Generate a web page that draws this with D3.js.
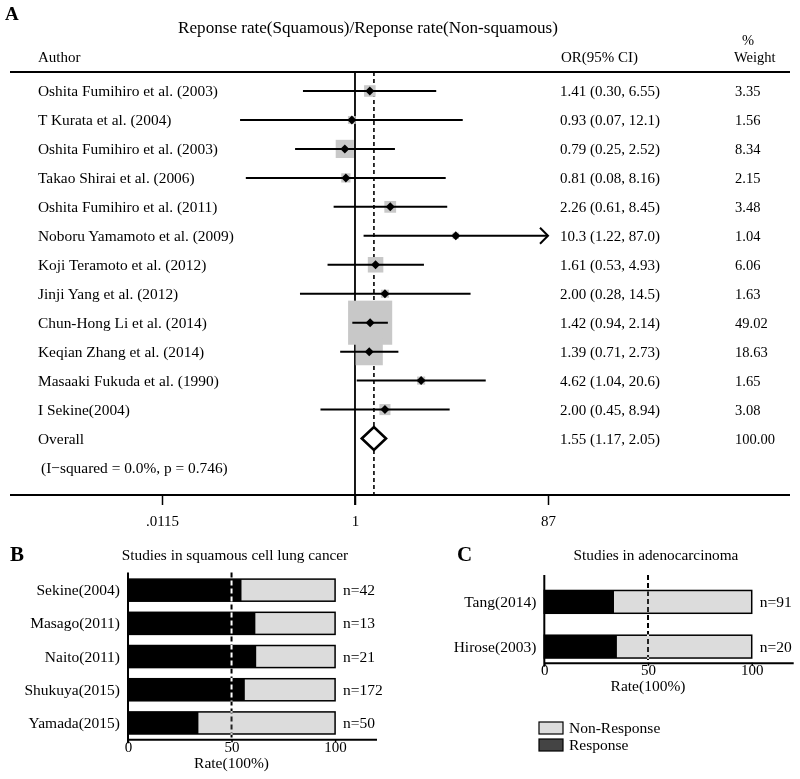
<!DOCTYPE html>
<html><head><meta charset="utf-8">
<script src="https://cdn.jsdelivr.net/npm/d3@7"></script>
<style>body{margin:0;background:#fff}svg{display:block}text{font-family:"Liberation Serif","Times New Roman",serif;fill:#000}</style>
</head><body>
<script>
// ---- Panel A data ----
const authors = ["Oshita Fumihiro et al. (2003)","T Kurata et al. (2004)","Oshita Fumihiro et al. (2003)","Takao Shirai et al. (2006)","Oshita Fumihiro et al. (2011)","Noboru Yamamoto et al. (2009)","Koji Teramoto et al. (2012)","Jinji Yang et al. (2012)","Chun-Hong Li et al. (2014)","Keqian Zhang et al. (2014)","Masaaki Fukuda et al. (1990)","I Sekine(2004)"];
const orValues = [1.41,0.93,0.79,0.81,2.26,10.3,1.61,2.00,1.42,1.39,4.62,2.00];
const ciLower = [0.30,0.07,0.25,0.08,0.61,1.22,0.53,0.28,0.94,0.71,1.04,0.45];
const ciUpper = [6.55,12.1,2.52,8.16,8.45,87.0,4.93,14.5,2.14,2.73,20.6,8.94];
const weights = [3.35,1.56,8.34,2.15,3.48,1.04,6.06,1.63,49.02,18.63,1.65,3.08];
const overall = {or:1.55, lo:1.17, hi:2.05, w:100.00};
const heterogeneity = "(I\u2212squared = 0.0%, p = 0.746)";
const forestTickValues = [0.0115, 1, 87];
const forestTickLabels = [".0115", "1", "87"];

// ---- Panel B data ----
const sqStudies = ["Sekine(2004)","Masago(2011)","Naito(2011)","Shukuya(2015)","Yamada(2015)"];
const sqResponse = [54.8,61.5,61.9,56.4,34.0];
const sqN = [42,13,21,172,50];

// ---- Panel C data ----
const adStudies = ["Tang(2014)","Hirose(2003)"];
const adResponse = [33.6,35.0];
const adN = [91,20];

const rateTicks = [0,50,100];
const legendItems = [{label:"Non-Response", color:"#dcdcdc"},{label:"Response", color:"#444444"}];

const W=800,H=779;
const svg = d3.select("body").append("svg").attr("width",W).attr("height",H);

// ================= Panel A =================
const fmt = v => v >= 10 ? v.toFixed(1) : v.toFixed(2);
const x = d3.scaleLog().domain([0.0115, 87]).range([162, 548]);
const nRows = authors.length + 2;
const y = d3.scalePoint().domain(d3.range(nRows)).range([91, 467.5]);
const side = d3.scaleSqrt().domain([0,100]).range([0,63]);
const A = svg.append("g");

A.append("text").attr("x",5).attr("y",20).attr("font-size",19).attr("font-weight","bold").text("A");
A.append("text").attr("x",368).attr("y",33).attr("text-anchor","middle").attr("font-size",17.1).text("Reponse rate(Squamous)/Reponse rate(Non-squamous)");
A.append("text").attr("x",38).attr("y",62).attr("font-size",15).text("Author");
A.append("text").attr("x",561).attr("y",62).attr("font-size",15).text("OR(95% CI)");
A.append("text").attr("x",742).attr("y",45).attr("font-size",14.5).text("%");
A.append("text").attr("x",734).attr("y",62).attr("font-size",14.5).text("Weight");

A.append("line").attr("x1",10).attr("x2",790).attr("y1",72).attr("y2",72).attr("stroke","#000").attr("stroke-width",2.2);

// reference lines
A.append("line").attr("x1",x(1)).attr("x2",x(1)).attr("y1",72).attr("y2",505).attr("stroke","#000").attr("stroke-width",1.8);
A.append("line").attr("x1",x(overall.or)).attr("x2",x(overall.or)).attr("y1",72).attr("y2",495).attr("stroke","#000").attr("stroke-width",1.6).attr("stroke-dasharray","4,3");

const rows = authors.map((a,i)=>({a, or:orValues[i], lo:ciLower[i], hi:ciUpper[i], w:weights[i], i}));
// weight squares
A.selectAll("rect.w").data(rows).enter().append("rect").attr("class","w")
  .attr("x",d=>x(d.or)-side(d.w)/2).attr("y",d=>y(d.i)-side(d.w)/2)
  .attr("width",d=>side(d.w)).attr("height",d=>side(d.w)).attr("fill","#c8c8c8");
// CI lines
const xmax = x.domain()[1];
A.selectAll("line.ci").data(rows).enter().append("line").attr("class","ci")
  .attr("x1",d=>x(Math.max(d.lo,x.domain()[0]))).attr("x2",d=>x(Math.min(d.hi,xmax)))
  .attr("y1",d=>y(d.i)).attr("y2",d=>y(d.i)).attr("stroke","#000").attr("stroke-width",2);
// arrows for clipped CIs
A.selectAll("path.arr").data(rows.filter(d=>d.hi>=xmax)).enter().append("path").attr("class","arr")
  .attr("d",d=>{const ex=x(xmax),ey=y(d.i);return `M${ex-8},${ey-8}L${ex},${ey}L${ex-8},${ey+8}`;})
  .attr("fill","none").attr("stroke","#000").attr("stroke-width",2);
// point diamonds
A.selectAll("path.pt").data(rows).enter().append("path").attr("class","pt")
  .attr("d",d=>{const cx=x(d.or),cy=y(d.i),r=4.5;return `M${cx},${cy-r}L${cx+r},${cy}L${cx},${cy+r}L${cx-r},${cy}Z`;})
  .attr("fill","#000");
// overall diamond
const oy = y(authors.length);
A.append("path").attr("d",`M${x(overall.lo)},${oy}L${x(overall.or)},${oy-11.5}L${x(overall.hi)},${oy}L${x(overall.or)},${oy+11.5}Z`)
  .attr("fill","#fff").attr("stroke","#000").attr("stroke-width",2.6);

// texts
const txt = rows.concat([{a:"Overall", or:overall.or, lo:overall.lo, hi:overall.hi, w:overall.w, i:authors.length}]);
A.selectAll("text.au").data(txt).enter().append("text").attr("class","au")
  .attr("x",38).attr("y",d=>y(d.i)+5).attr("font-size",15.4).text(d=>d.a);
A.selectAll("text.or").data(txt).enter().append("text").attr("class","or")
  .attr("x",560).attr("y",d=>y(d.i)+5).attr("font-size",15)
  .text(d=>`${fmt(d.or)} (${fmt(d.lo)}, ${fmt(d.hi)})`);
A.selectAll("text.wt").data(txt).enter().append("text").attr("class","wt")
  .attr("x",735).attr("y",d=>y(d.i)+5).attr("font-size",14.5).text(d=>d.w.toFixed(2));
A.append("text").attr("x",41).attr("y",y(authors.length+1)+5).attr("font-size",15.4).text(heterogeneity);

// bottom axis
A.append("line").attr("x1",10).attr("x2",790).attr("y1",495).attr("y2",495).attr("stroke","#000").attr("stroke-width",2);
const ax = A.append("g").attr("transform","translate(0,495)")
  .call(d3.axisBottom(x).tickValues(forestTickValues).tickFormat((d,i)=>forestTickLabels[i]).tickSize(10).tickPadding(10));
ax.select(".domain").remove();
ax.selectAll("line").attr("stroke","#000").attr("stroke-width",1.5);
ax.selectAll("text").attr("font-size",15).attr("font-family","Liberation Serif");

// ================= bar panels =================
function barPanel(opt){
  const g = svg.append("g");
  const bx = d3.scaleLinear().domain([0,120]).range([opt.x0, opt.x1]);
  const by = d3.scaleBand().domain(opt.names).range(opt.yr).paddingInner(opt.pi).paddingOuter(opt.po);
  g.append("text").attr("x",opt.letterX).attr("y",opt.titleY+6).attr("font-size",21).attr("font-weight","bold").text(opt.letter);
  g.append("text").attr("x",opt.titleX).attr("y",opt.titleY+5).attr("text-anchor","middle").attr("font-size",15.3).text(opt.title);
  const rowsB = opt.names.map((n,i)=>({n, r:opt.resp[i], N:opt.N[i]}));
  g.selectAll("rect.bg").data(rowsB).enter().append("rect")
    .attr("x",bx(0)).attr("y",d=>by(d.n)).attr("width",bx(100)-bx(0)).attr("height",by.bandwidth())
    .attr("fill","#dcdcdc").attr("stroke","#000").attr("stroke-width",1.5);
  g.selectAll("rect.fg").data(rowsB).enter().append("rect")
    .attr("x",bx(0)).attr("y",d=>by(d.n)).attr("width",d=>bx(d.r)-bx(0)).attr("height",by.bandwidth())
    .attr("fill","#000");
  // dashed 50 line (inverts over black)
  g.append("line").attr("x1",bx(50)).attr("x2",bx(50)).attr("y1",opt.axTop).attr("y2",opt.axBot)
    .attr("stroke","#fff").attr("stroke-width",2).attr("stroke-dasharray","5,3").style("mix-blend-mode","difference");
  g.selectAll("text.lab").data(rowsB).enter().append("text")
    .attr("x",opt.x0-8).attr("y",d=>by(d.n)+by.bandwidth()/2+5).attr("text-anchor","end").attr("font-size",15.5).text(d=>d.n);
  g.selectAll("text.n").data(rowsB).enter().append("text")
    .attr("x",bx(100)+8).attr("y",d=>by(d.n)+by.bandwidth()/2+5).attr("font-size",15.5).text(d=>"n="+d.N);
  // axes
  g.append("line").attr("x1",bx(0)).attr("x2",bx(0)).attr("y1",opt.axTop).attr("y2",opt.axBot+4).attr("stroke","#000").attr("stroke-width",2);
  const a = g.append("g").attr("transform",`translate(0,${opt.axBot})`)
    .call(d3.axisBottom(bx).tickValues(rateTicks).tickSize(3).tickSizeOuter(0).tickPadding(-1));
  a.select(".domain").attr("stroke","#000").attr("stroke-width",2);
  a.selectAll("line").attr("stroke","#000").attr("stroke-width",1.5);
  a.selectAll("text").attr("font-size",15).attr("font-family","Liberation Serif");
  g.append("text").attr("x",bx(50)).attr("y",opt.axBot+28.5).attr("text-anchor","middle").attr("font-size",15.5).text("Rate(100%)");
  return g;
}

barPanel({letter:"B", letterX:10, title:"Studies in squamous cell lung cancer", titleX:235, titleY:555,
  names:sqStudies, resp:sqResponse, N:sqN, x0:128, x1:376.5, yr:[573.8,739.3], pi:0.335, po:0.16,
  axTop:572.5, axBot:739.3});
barPanel({letter:"C", letterX:457, title:"Studies in adenocarcinoma", titleX:656, titleY:555,
  names:adStudies, resp:adResponse, N:adN, x0:544.3, x1:793.2, yr:[586,662.5], pi:0.49, po:0.1,
  axTop:575, axBot:662.7});

// legend
const lg = svg.append("g").attr("transform","translate(539,722)");
lg.selectAll("rect").data(legendItems).enter().append("rect")
  .attr("x",0).attr("y",(d,i)=>i*17).attr("width",24).attr("height",12)
  .attr("fill",d=>d.color).attr("stroke","#000").attr("stroke-width",1.2);
lg.selectAll("text").data(legendItems).enter().append("text")
  .attr("x",30).attr("y",(d,i)=>i*17+11).attr("font-size",15.5).text(d=>d.label);
</script>
</body></html>
